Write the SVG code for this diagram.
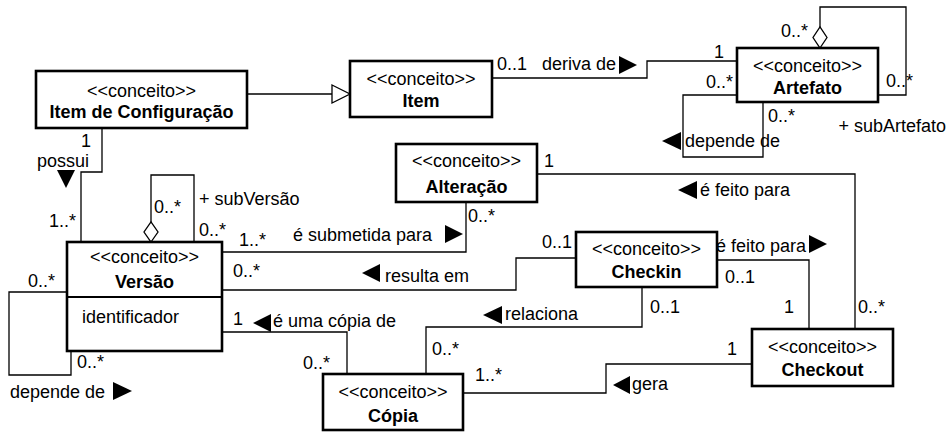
<svg xmlns="http://www.w3.org/2000/svg" width="950" height="432" viewBox="0 0 950 432">
<style>
text{font-family:"Liberation Sans",Arial,sans-serif;font-size:18px;fill:#000}
.c{text-anchor:middle}
.b{font-weight:bold}
.e{text-anchor:end}
.box{fill:#fff;stroke:#000;stroke-width:2.6}
.ln{fill:none;stroke:#000;stroke-width:1.3}
.ar{fill:#000;stroke:none}
.dm{fill:#fff;stroke:#000;stroke-width:1.3}
</style>
<rect width="950" height="432" fill="#fff"/>
<g id="connectors">
  <!-- generalization -->
  <polyline class="ln" points="247,94 332,94"/>
  <polygon class="dm" points="332,85 350,94 332,103"/>
  <!-- deriva de -->
  <polyline class="ln" points="492,78 647,78 647,61 737,61"/>
  <text x="497" y="70">0..1</text>
  <text x="542" y="70">deriva de</text>
  <polygon class="ar" points="619,56 637,65 619,74"/>
  <text x="724" y="58" class="e">1</text>
  <!-- Artefato aggregation -->
  <polyline class="ln" points="820,27 820,7 906,7 906,95 878,95"/>
  <polygon class="dm" points="820,48 827,37.5 820,27 813,37.5"/>
  <text x="808" y="37" class="e">0..*</text>
  <text x="886" y="87">0..*</text>
  <text x="946" y="132" class="e">+ subArtefato</text>
  <!-- Artefato depende de -->
  <polyline class="ln" points="737,95 683,95 683,157 763,157 763,102"/>
  <text x="733" y="88" class="e">0..*</text>
  <text x="768" y="122">0..*</text>
  <text x="685" y="147">depende de</text>
  <polygon class="ar" points="662,141 681,132 681,150"/>
  <!-- possui -->
  <polyline class="ln" points="102,128 102,172 81,172 81,242"/>
  <text x="91" y="147" class="e">1</text>
  <text x="37" y="167">possui</text>
  <polygon class="ar" points="57,170 75,170 66,188"/>
  <text x="49" y="227">1..*</text>
  <!-- Versao aggregation -->
  <polyline class="ln" points="151,222 151,175 194,175 194,242"/>
  <polygon class="dm" points="151,242 158,232 151,222 144,232"/>
  <text x="154" y="213">0..*</text>
  <text x="199" y="205">+ subVersão</text>
  <text x="199" y="236">0..*</text>
  <!-- submetida para -->
  <polyline class="ln" points="222,252 466,252 466,202"/>
  <text x="239" y="246">1..*</text>
  <text x="293" y="241">é submetida para</text>
  <polygon class="ar" points="445,225 463,234 445,243"/>
  <text x="468" y="222">0..*</text>
  <!-- resulta em -->
  <polyline class="ln" points="576,258 516,258 516,290 222,290"/>
  <text x="542" y="248">0..1</text>
  <polygon class="ar" points="362,273 380,264 380,282"/>
  <text x="385" y="282">resulta em</text>
  <text x="233" y="277">0..*</text>
  <!-- e feito para (Alteracao-Checkout) -->
  <polyline class="ln" points="537,174 855,174 855,329"/>
  <text x="544" y="167">1</text>
  <polygon class="ar" points="678,190 697,181 697,199"/>
  <text x="700" y="196">é feito para</text>
  <text x="858" y="313">0..*</text>
  <!-- e feito para (Checkin-Checkout) -->
  <polyline class="ln" points="717,260 809,260 809,329"/>
  <text x="716" y="252">é feito para</text>
  <polygon class="ar" points="809,235 827,244 809,253"/>
  <text x="725" y="283">0..1</text>
  <text x="794" y="313" class="e">1</text>
  <!-- relaciona -->
  <polyline class="ln" points="642,287 642,327 426,327 426,374"/>
  <text x="650" y="313">0..1</text>
  <polygon class="ar" points="483,315 502,306 502,324"/>
  <text x="505" y="320">relaciona</text>
  <text x="432" y="355">0..*</text>
  <!-- gera -->
  <polyline class="ln" points="752,364 606,364 606,393 463,393"/>
  <text x="737" y="355" class="e">1</text>
  <text x="475" y="381">1..*</text>
  <polygon class="ar" points="613,385 630,376 630,394"/>
  <text x="632" y="390">gera</text>
  <!-- e uma copia de -->
  <polyline class="ln" points="222,332 347,332 347,374"/>
  <text x="233" y="325">1</text>
  <polygon class="ar" points="253,323 271,314 271,332"/>
  <text x="273" y="327">é uma cópia de</text>
  <text x="303" y="369">0..*</text>
  <!-- Versao depende de -->
  <polyline class="ln" points="67,292 9,292 9,375 71,375 71,351"/>
  <text x="28" y="287">0..*</text>
  <text x="77" y="368">0..*</text>
  <text x="10" y="398">depende de</text>
  <polygon class="ar" points="113,382 132,391 113,400"/>
</g>
<g id="item-configuracao">
  <rect class="box" x="36" y="71" width="211" height="57"/>
  <text x="141.5" y="97" class="c">&lt;&lt;conceito&gt;&gt;</text>
  <text x="141.5" y="118" class="c b">Item de Configuração</text>
</g>
<g id="item">
  <rect class="box" x="350" y="61" width="142" height="56"/>
  <text x="421" y="85" class="c">&lt;&lt;conceito&gt;&gt;</text>
  <text x="421" y="107" class="c b">Item</text>
</g>
<g id="artefato">
  <rect class="box" x="737" y="48" width="141" height="54"/>
  <text x="807.5" y="72" class="c">&lt;&lt;conceito&gt;&gt;</text>
  <text x="807.5" y="94" class="c b">Artefato</text>
</g>
<g id="alteracao">
  <rect class="box" x="396" y="144" width="141" height="58"/>
  <text x="466.5" y="167" class="c">&lt;&lt;conceito&gt;&gt;</text>
  <text x="466.5" y="193" class="c b">Alteração</text>
</g>
<g id="versao">
  <rect class="box" x="67" y="242" width="155" height="109"/>
  <line x1="67" y1="297" x2="222" y2="297" stroke="#000" stroke-width="2"/>
  <text x="144.5" y="263" class="c">&lt;&lt;conceito&gt;&gt;</text>
  <text x="144.5" y="288" class="c b">Versão</text>
  <text x="82" y="323">identificador</text>
</g>
<g id="checkin">
  <rect class="box" x="576" y="232" width="141" height="55"/>
  <text x="646.5" y="255" class="c">&lt;&lt;conceito&gt;&gt;</text>
  <text x="646.5" y="278" class="c b">Checkin</text>
</g>
<g id="checkout">
  <rect class="box" x="752" y="329" width="141" height="57"/>
  <text x="822.5" y="353" class="c">&lt;&lt;conceito&gt;&gt;</text>
  <text x="822.5" y="376" class="c b">Checkout</text>
</g>
<g id="copia">
  <rect class="box" x="323" y="374" width="140" height="56"/>
  <text x="393" y="398" class="c">&lt;&lt;conceito&gt;&gt;</text>
  <text x="393" y="422" class="c b">Cópia</text>
</g>
</svg>
